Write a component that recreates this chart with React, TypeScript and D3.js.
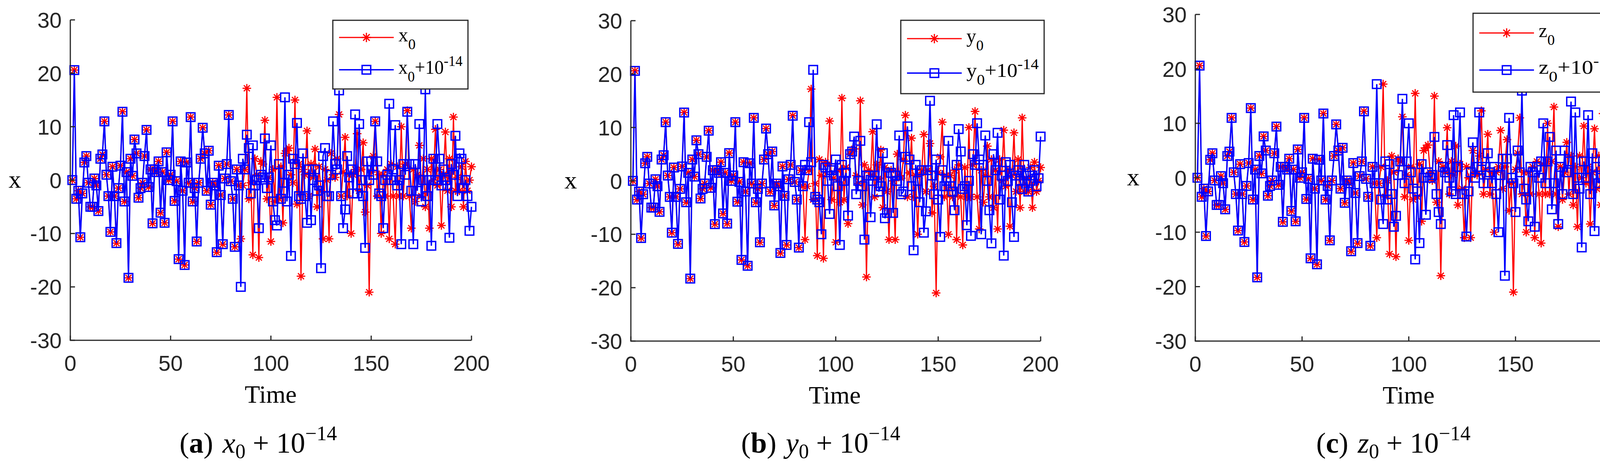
import * as d3 from "d3";

// shared trajectory (all three panels start identical)
const base = [
  0, 20.6, -3.5, -2, -10.7, -2.5, 3.3, 4.5, -0.5, -5,
  -5, 0.3, -1, -5.8, 4, 4.8, 11, 1, -3, -9.7,
  2.5, -3, -11.8, -1.5, 2.7, 12.8, -4, 1.5, -18.3, 4,
  0.8, 7.6, 5, -3.3, -1.5, -0.5, 4.5, 9.4, -1.3, 2,
  -8.1, 2, 1.5, 3.5, -6.1, 1.5, -8, 5.2, 0, 1,
  11, -3.9, -0.2, -14.8, 3.5, -2, -15.9, 3.3, -0.5, 11.8,
  -4, -1.5, -11.5, -0.5, 4, 9.8, 5, -2, 5.5, -4.6,
  -0.5, -1, -13.5, 2.7, -2.8, -12, 0.3, 3, 12.2, -0.2,
  -3.5, -12.5, 2, -1,
];

// red (unperturbed) tail, t = 85..200
const redTail = [
  -11, -1, 2, 17.2, -3.5, -0.5,
  -14, 4, 1, -14.5, 3.5, 3, 11.2, -3.5, 0.5, -11.5,
  2, -4, 15.5, -3.5, 2.5, -8, 5, 5.5, 6, 1,
  -0.5, 15, -4.5, 3, -18, 2, 1, 9.2, -3, 3,
  0.5, 5.8, -5, 2.5, -2, -11, 2, 0, -11, 5,
  1, 0.5, 4, 12.3, -3, 1.5, 8, -3, 1, -10,
  1, 2, 8.7, -2, 2, 7, -6, -1, -21, 1.5,
  4.5, 11, -3, 1, -10, 1, -3, 2, -11, 3,
  -3, -12, 2.5, -3, 10, -3, 3, 13, -3, -9,
  2, -4, 1, 6.5, -3, 4, -5, 2, -9, 4,
  0, 9.5, -1, 2, -8.5, 1, 9, -2, 4, -5,
  11.8, -2, 0.5, -2, 2.5, -5, 3.5, -2, 0, 2.5,
];

// perturbed tails, t = 85..200
const blueTailX = [
  -20, 4, 2, 8.5, 6, -2.5,
  6.5, -1, 0, -9, 1, 0.5, 7.8, -1.5, 0.5, 6.5,
  -4, -7.5, -8.5, 3, -3.5, -0.5, 15.5, -4, 1, -14.2,
  4, 3, 10.7, -3, -3.5, 5, -3, -8, 2, -7.5,
  0, 2, -2, -1, -16.5, 4.5, 6, -3, -3, 1,
  11, 3, 2, 16.8, -3, -9, -5.5, 4.5, 0.5, 2,
  -2.5, 12.3, -2.5, 10.5, 0, -3, -12.7, 3.5, 0, 3.5,
  1, 11, 3.5, -2.5, -3, -9, 0, 1, 14.3, 0,
  2, 10.3, -1, 0, -12, 3, 1, 12.8, 3, -2,
  -12, 3, -2, 10.5, -4, 0, 17, -3, 0, -12.3,
  4, 0, 10.5, 4, -1, 2, 0, -1, -10.8, 3,
  1, 8.3, -3, 5, 4, -1.5, 0, -3, -9.5, -5,
];

const blueTailY = [
  3, 2, 11, 3.5, 20.8, -3,
  -3.5, -4, -10, 3, 2.5, 0, -6.2, 2, 1, 4,
  -1, -12, 3, 0, 1.5, -6.5, 5, 5.5, 8.3, -2.5,
  0, 7.5, -1, -11, 1, 1, -6.8, 0, 1, 10.6,
  -2, -1, 5.2, -7, -6, 2.5, 1.5, -6, 1, 0,
  8.5, -2.5, -2, 4.5, 10.2, 4, -1, -13, 3, 0,
  -4, 2, -9.7, -5.7, 2, 15, 1, -2.5, 4, -3.5,
  -10.5, 2, -1, 0, 7.5, -1, -2, -5.5, 3, 9.7,
  5.5, -1.5, -1, -8.3, 0, -10.3, 5, 3, 10.8, 4,
  -10, 3, 8.5, 0, -5.5, -11.7, 5, 2, 9, -3.5,
  1, -14, 3.5, 0, 3, -4, -10.5, 1, 2, 0,
  -1.5, 3, 1, -2, 0, 1, 2, -1, 0.5, 8.3,
];

const blueTailZ = [
  17.2, -1, -4, -8.5, 3, -4,
  2.5, -3, -9, -7, 0.5, 3, 14.5, -1, 3, 10,
  1, -2, -15, -2.5, -12, 2.5, 0, -6.8, 1, 0,
  0.5, 7.5, -3, -6.3, -8.5, 2, 1, 6, 0, -2.5,
  11.5, -3, 2, 12, -3, -3, -10.8, -2.5, 1, 6.5,
  0, 2, 12, 1.5, -1, 2, 4.5, 1, -1, 2,
  -3, -10, 0.5, 3.5, -18, 3.5, 11, 0, -1, -6.3,
  5, 1, 16, -2, -4, -8, 2, 1, -9, 2,
  0, 3, 10, -1, 3, 7.5, -5.8, -1, 5, -8.5,
  2, -3, 5, 1, 3, 14, -3, 12, 0, -2,
  -12.8, 3, 0, 11.5, -3, 4.5, -9.8, 2, -1, 0,
  3, -1, 2, 0, 4, -2, 1, 20, -1, -1,
];

const xTicks = [0, 50, 100, 150, 200];
const yTicks = [-30, -20, -10, 0, 10, 20, 30];
const red = base.concat(redTail);

const panels = [
  { v: "x", tag: "a", blue: base.concat(blueTailX), left: 180, right: 1207, top: 51, bottom: 872,
    leg: [852, 52, 1198, 228], yLab: 38, time: 693, cap: 661 },
  { v: "y", tag: "b", blue: base.concat(blueTailY), left: 1615, right: 2664, top: 53, bottom: 874,
    leg: [2306, 52, 2673, 240], yLab: 1461, time: 2137, cap: 2101 },
  { v: "z", tag: "c", blue: base.concat(blueTailZ), left: 3060, right: 4153, top: 37, bottom: 874,
    leg: [3771, 34, 4152, 236], yLab: 2901, time: 3606, cap: 3567 },
];

const RED = "#ff0000";
const BLUE = "#0000ff";
const AX = "#262626";
const SANS = "'Liberation Sans', Arial, sans-serif";
const SERIF = "'Liberation Serif', 'Times New Roman', serif";

const Star = ({ x, y, r = 11 }: { x: number; y: number; r?: number }) => {
  const d = r * 0.7;
  return (
    <path
      d={`M${x - r},${y}H${x + r}M${x},${y - r}V${y + r}M${x - d},${y - d}L${x + d},${y + d}M${x - d},${y + d}L${x + d},${y - d}`}
      stroke={RED}
      strokeWidth={3}
    />
  );
};

const Square = ({ x, y, s = 11 }: { x: number; y: number; s?: number }) => (
  <rect x={x - s} y={y - s} width={2 * s} height={2 * s} fill="none" stroke={BLUE} strokeWidth={3.5} />
);

const Panel = ({ p }: { p: (typeof panels)[number] }) => {
  const xs = d3.scaleLinear().domain([0, 200]).range([p.left, p.right]);
  const ys = d3.scaleLinear().domain([-30, 30]).range([p.bottom, p.top]);
  const line = d3.line<number>().x((_, i) => xs(i + 1)).y((d) => ys(d));
  const [lx0, ly0, lx1, ly1] = p.leg;
  const r1 = ly0 + (ly1 - ly0) * 0.25;
  const r2 = ly0 + (ly1 - ly0) * 0.72;
  const la = lx0 + 16;
  const lb = la + 140;
  const tx = lb + 12;
  const tw = lx1 - tx - 14;
  return (
    <g>
      <path d={line(red) ?? ""} fill="none" stroke={RED} strokeWidth={3} />
      {red.map((d, i) => <Star key={i} x={xs(i + 1)} y={ys(d)} />)}
      <path d={line(p.blue) ?? ""} fill="none" stroke={BLUE} strokeWidth={3.5} />
      {p.blue.map((d, i) => <Square key={i} x={xs(i + 1)} y={ys(d)} />)}

      <path d={`M${p.left},${p.top}V${p.bottom}H${p.right}`} fill="none" stroke={AX} strokeWidth={3} />
      {yTicks.map((t) => (
        <g key={t}>
          <line x1={p.left} x2={p.left + 12} y1={ys(t)} y2={ys(t)} stroke={AX} strokeWidth={3} />
          <text x={p.left - 22} y={ys(t)} dy="0.36em" textAnchor="end" fontFamily={SANS} fontSize={56} fill={AX}>
            {t}
          </text>
        </g>
      ))}
      {xTicks.map((t) => (
        <g key={t}>
          <line x1={xs(t)} x2={xs(t)} y1={p.bottom} y2={p.bottom - 12} stroke={AX} strokeWidth={3} />
          <text x={xs(t)} y={p.bottom + 78} textAnchor="middle" fontFamily={SANS} fontSize={56} fill={AX}>
            {t}
          </text>
        </g>
      ))}
      <text x={p.time} y={p.bottom + 160} textAnchor="middle" fontFamily={SERIF} fontSize={64}>Time</text>
      <text x={p.yLab} y={(p.top + p.bottom) / 2} dy="0.3em" textAnchor="middle" fontFamily={SERIF} fontSize={64}>x</text>

      <rect x={lx0} y={ly0} width={lx1 - lx0} height={ly1 - ly0} fill="#fff" stroke={AX} strokeWidth={3} />
      <line x1={la} x2={lb} y1={r1} y2={r1} stroke={RED} strokeWidth={3} />
      <Star x={(la + lb) / 2} y={r1} r={12} />
      <line x1={la} x2={lb} y1={r2} y2={r2} stroke={BLUE} strokeWidth={3.5} />
      <Square x={(la + lb) / 2} y={r2} />
      <text x={tx} y={r1 + 10} fontFamily={SERIF} fontSize={50}>
        {p.v}<tspan fontSize={38} dy={20}>0</tspan>
      </text>
      <text x={tx} y={r2 + 10} fontFamily={SERIF} fontSize={50} textLength={tw} lengthAdjust="spacingAndGlyphs">
        {p.v}<tspan fontSize={38} dy={20}>0</tspan><tspan dy={-20}>+10</tspan>
        <tspan fontSize={38} dy={-20}>-14</tspan>
      </text>

      <text x={p.cap} y={1160} textAnchor="middle" fontFamily={SERIF} fontSize={74}>
        (<tspan fontWeight="bold">{p.tag}</tspan>)
        <tspan dx={24} fontStyle="italic">{p.v}</tspan>
        <tspan fontSize={52} dy={14}>0</tspan>
        <tspan dy={-14}> + 10</tspan>
        <tspan fontSize={52} dy={-32}>−14</tspan>
      </text>
    </g>
  );
};

export default function App() {
  return (
    <svg width={4212} height={1189} style={{ position: "absolute", left: 0, top: 0, background: "#fff" }}>
      {panels.map((p) => <Panel key={p.tag} p={p} />)}
    </svg>
  );
}
